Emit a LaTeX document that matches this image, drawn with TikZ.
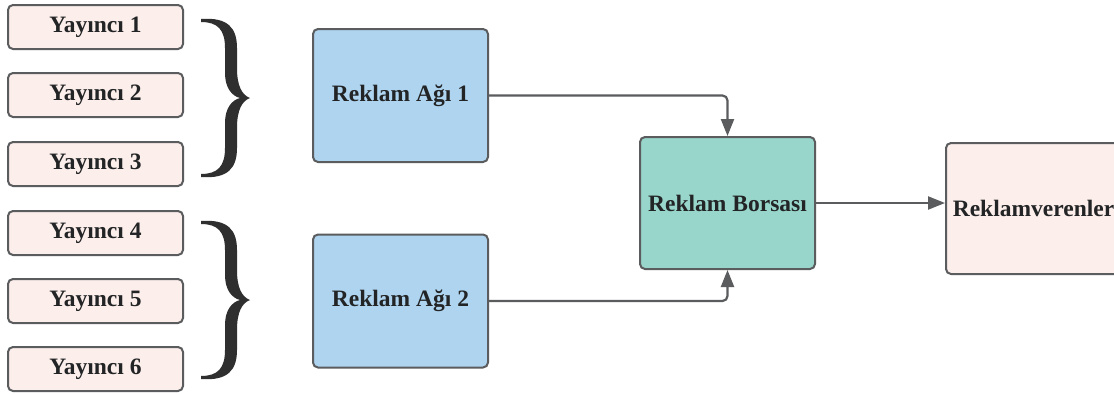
\documentclass[tikz,border=0pt]{standalone}
\usepackage{fontspec}
\setmainfont{Liberation Serif}[BoldFont={Liberation Serif Bold}]
\newfontfamily\boxfont{Liberation Serif Bold}
\usetikzlibrary{arrows.meta}
\definecolor{pinkfill}{HTML}{FCEEEB}
\definecolor{bluefill}{HTML}{AED4EF}
\definecolor{tealfill}{HTML}{98D6CB}
\definecolor{edgegray}{HTML}{5A5C5E}
\definecolor{txt}{HTML}{222425}
\definecolor{bracecol}{HTML}{2F2F2F}
\tikzset{
  boxbase/.style={draw=edgegray, line width=2pt, rounded corners=5pt, text=txt,
    font=\boxfont\fontsize{23.5}{28}\selectfont, inner sep=0pt},
  pubbox/.style={boxbase, fill=pinkfill, minimum width=175pt, minimum height=44pt},
  netbox/.style={boxbase, fill=bluefill, minimum width=175pt, minimum height=133pt},
  exbox/.style={boxbase, fill=tealfill, minimum width=175pt, minimum height=132pt},
  advbox/.style={boxbase, fill=pinkfill, minimum width=175pt, minimum height=131pt},
  conn/.style={draw=edgegray, line width=2.2pt, rounded corners=5pt,
    -{Triangle[length=17pt,width=13pt]}},
  bracefill/.style={fill=bracecol, draw=none}
}
\newcommand{\mybrace}[1]{%
  \fill[bracefill, shift={#1}]
    (-49,-79) .. controls (-22,-81) and (-13,-70) .. (-13,-50) -- (-13,-30)
    .. controls (-13,-12) and (-8,-3) .. (0,0)
    .. controls (-8,3) and (-13,12) .. (-13,30) -- (-13,50)
    .. controls (-13,70) and (-22,81) .. (-49,79)
    -- (-49,76) .. controls (-32,76) and (-25,68) .. (-25,50) -- (-25,25)
    .. controls (-25,10) and (-18,2) .. (-10,0)
    .. controls (-18,-2) and (-25,-10) .. (-25,-25) -- (-25,-50)
    .. controls (-25,-68) and (-32,-76) .. (-49,-76) -- cycle;}
\begin{document}
\begin{tikzpicture}[x=1pt,y=-1pt]
\clip (0,0) rectangle (1114,394);
\fill[white] (0,0) rectangle (1114,394);
\node[pubbox] (y1) at (95.5,27) {Yayıncı 1};
\node[pubbox] (y2) at (95.5,95) {Yayıncı 2};
\node[pubbox] (y3) at (95.5,164) {Yayıncı 3};
\node[pubbox] (y4) at (95.5,233) {Yayıncı 4};
\node[pubbox] (y5) at (95.5,301) {Yayıncı 5};
\node[pubbox] (y6) at (95.5,369) {Yayıncı 6};
\mybrace{(250,98)}
\mybrace{(250,300)}
\node[netbox] (ag1) at (400.5,95.5) {Reklam Ağı 1};
\node[netbox] (ag2) at (400.5,301) {Reklam Ağı 2};
\node[exbox] (bx) at (727.5,203) {Reklam Borsası};
\node[advbox] (rv) at (1033.5,208.5) {Reklamverenler};
\draw[conn] (ag1.east) -| (bx.north);
\draw[conn] (ag2.east) -| (bx.south);
\draw[conn] (bx.east) -- (bx.east -| rv.west);
\end{tikzpicture}
\end{document}
